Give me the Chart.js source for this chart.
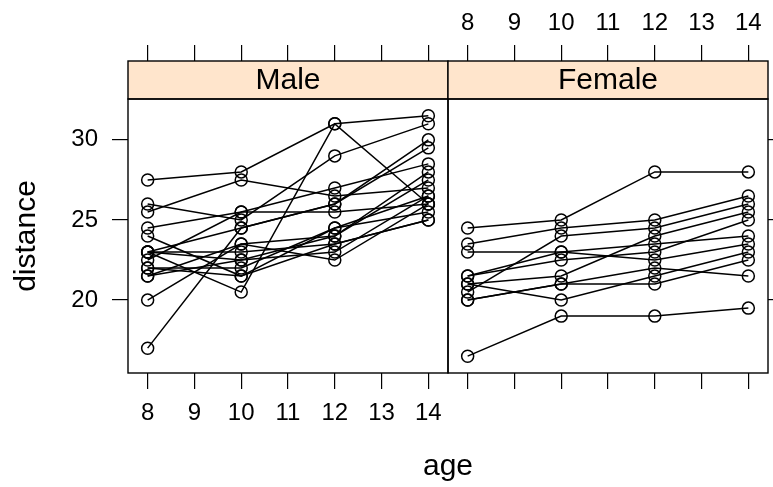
<!DOCTYPE html>
<html>
<head>
<meta charset="utf-8">
<script src="https://cdn.jsdelivr.net/npm/chart.js@4"></script>
<style>
  body { margin: 0; background: #fff; }
  #wrap { width: 773px; height: 487px; }
</style>
</head>
<body>
<div id="wrap"><canvas id="orthoChart" width="773" height="487"></canvas></div>
<script>
// Orthodont: distance vs age, one line per subject
const ages = [8, 10, 12, 14];
const maleIds = ['M01','M02','M03','M04','M05','M06','M07','M08','M09','M10','M11','M12','M13','M14','M15','M16'];
const maleDistance = [
    [26, 25, 29, 31],
    [21.5, 22.5, 23, 26.5],
    [23, 22.5, 24, 27.5],
    [25.5, 27.5, 26.5, 27],
    [20, 23.5, 22.5, 26],
    [24.5, 25.5, 27, 28.5],
    [22, 22, 24.5, 26.5],
    [24, 21.5, 24.5, 25.5],
    [23, 20.5, 31, 26],
    [27.5, 28, 31, 31.5],
    [23, 23, 23.5, 25],
    [21.5, 23.5, 24, 28],
    [17, 24.5, 26, 29.5],
    [22.5, 25.5, 25.5, 26],
    [23, 24.5, 26, 30],
    [22, 21.5, 23.5, 25]
];
const femaleIds = ['F01','F02','F03','F04','F05','F06','F07','F08','F09','F10','F11'];
const femaleDistance = [
    [21, 20, 21.5, 23],
    [21, 21.5, 24, 25.5],
    [20.5, 24, 24.5, 26],
    [23.5, 24.5, 25, 26.5],
    [21.5, 23, 22.5, 23.5],
    [20, 21, 21, 22.5],
    [21.5, 22.5, 23, 25],
    [23, 23, 23.5, 24],
    [20, 21, 22, 21.5],
    [16.5, 19, 19, 19.5],
    [24.5, 25, 28, 28]
];
const panelLabels = ['Male', 'Female'];
const ageTicks = [8, 9, 10, 11, 12, 13, 14];
const distanceTicks = [20, 25, 30];

const FONT = "'Liberation Sans', Arial, sans-serif";
const stripColor = '#ffe5cc';
const stripHeight = 38;

// lattice pads the data range by 7% on each side
const pad = (lo, hi) => [lo - (hi - lo) * 0.07, hi + (hi - lo) * 0.07];
const [ageMin, ageMax] = pad(8, 14);
const allDist = maleDistance.flat().concat(femaleDistance.flat());
const [distMin, distMax] = pad(Math.min(...allDist), Math.max(...allDist));

function subjectDataset(id, row, axis) {
    return {
        label: id,
        data: ages.map((a, i) => ({ x: a, y: row[i] })),
        xAxisID: axis,
        yAxisID: 'y',
        showLine: true,
        borderColor: '#000',
        borderWidth: 1.5,
        pointStyle: 'circle',
        pointRadius: 6,
        pointBorderWidth: 1.5,
        pointBorderColor: '#000',
        pointBackgroundColor: 'rgba(0,0,0,0)'
    };
}

const datasets = [
    ...maleIds.map((id, i) => subjectDataset(id, maleDistance[i], 'xm')),
    ...femaleIds.map((id, i) => subjectDataset(id, femaleDistance[i], 'xf'))
];

const setTicks = (list) => (scale) => { scale.ticks = list.map(v => ({ value: v })); };
const tickFont = { family: FONT, size: 24 };
const gridOpts = (len) => ({ drawOnChartArea: false, drawTicks: true, tickLength: len, color: '#000', lineWidth: 1.2 });

function ageAxis(position, stack, showLabels, tickLen, height, labelPad) {
    return {
        type: 'linear',
        position: position,
        stack: stack,
        min: ageMin,
        max: ageMax,
        afterBuildTicks: setTicks(ageTicks),
        afterFit: (s) => {
            s.height = height;
            // no extra room for the end labels, panels are fixed
            s.paddingLeft = 0;
            s.paddingRight = 0;
        },
        grid: gridOpts(tickLen),
        border: { display: false },
        ticks: { display: showLabels, autoSkip: false, color: '#000', font: tickFont, padding: labelPad, maxRotation: 0 }
    };
}

// panel frames and the strips above them
const latticeFrame = {
    id: 'latticeFrame',
    afterDraw(chart) {
        const { ctx, chartArea: a, scales } = chart;
        ctx.save();
        ctx.strokeStyle = '#000';
        ctx.lineWidth = 1.4;
        [scales.xm, scales.xf].forEach((s, i) => {
            const top = a.top - stripHeight;
            ctx.fillStyle = stripColor;
            ctx.fillRect(s.left, top, s.width, stripHeight);
            ctx.strokeRect(s.left, top, s.width, stripHeight);
            ctx.strokeRect(s.left, a.top, s.width, a.bottom - a.top);
            ctx.fillStyle = '#000';
            ctx.font = '30px ' + FONT;
            ctx.textAlign = 'center';
            ctx.textBaseline = 'middle';
            ctx.fillText(panelLabels[i], s.left + s.width / 2, top + stripHeight / 2 + 1);
        });
        ctx.restore();
    }
};

new Chart(document.getElementById('orthoChart'), {
    type: 'scatter',
    data: { datasets: datasets },
    plugins: [latticeFrame],
    options: {
        responsive: false,
        animation: false,
        layout: { padding: 0, autoPadding: false },
        plugins: {
            legend: { display: false },
            tooltip: { enabled: false },
            title: {
                display: true,
                text: 'age',
                position: 'bottom',
                fullSize: false,
                color: '#000',
                font: { family: FONT, size: 30, weight: 'normal' },
                padding: { top: 10, bottom: 2 }
            }
        },
        scales: {
            xm: ageAxis('bottom', 'bottomRow', true, 16, 66, 10),
            xf: ageAxis('bottom', 'bottomRow', false, 16, 66, 10),
            // top boxes are laid out in reverse order, so the female one comes first
            xft: ageAxis('top', 'topRow', true, 54, 99, 7),
            xmt: ageAxis('top', 'topRow', false, 54, 99, 7),
            y: {
                type: 'linear',
                position: 'left',
                min: distMin,
                max: distMax,
                afterBuildTicks: setTicks(distanceTicks),
                afterFit: (s) => { s.width = 128; },
                grid: gridOpts(16),
                border: { display: false },
                ticks: { color: '#000', font: tickFont, padding: 14 },
                title: {
                    display: true,
                    text: 'distance',
                    color: '#000',
                    font: { family: FONT, size: 30 },
                    padding: { top: 9, bottom: 0 }
                }
            },
            yr: {
                type: 'linear',
                position: 'right',
                min: distMin,
                max: distMax,
                afterBuildTicks: setTicks(distanceTicks),
                afterFit: (s) => { s.width = 5; },
                grid: gridOpts(16),
                border: { display: false },
                ticks: { display: false }
            }
        }
    }
});
</script>
</body>
</html>
